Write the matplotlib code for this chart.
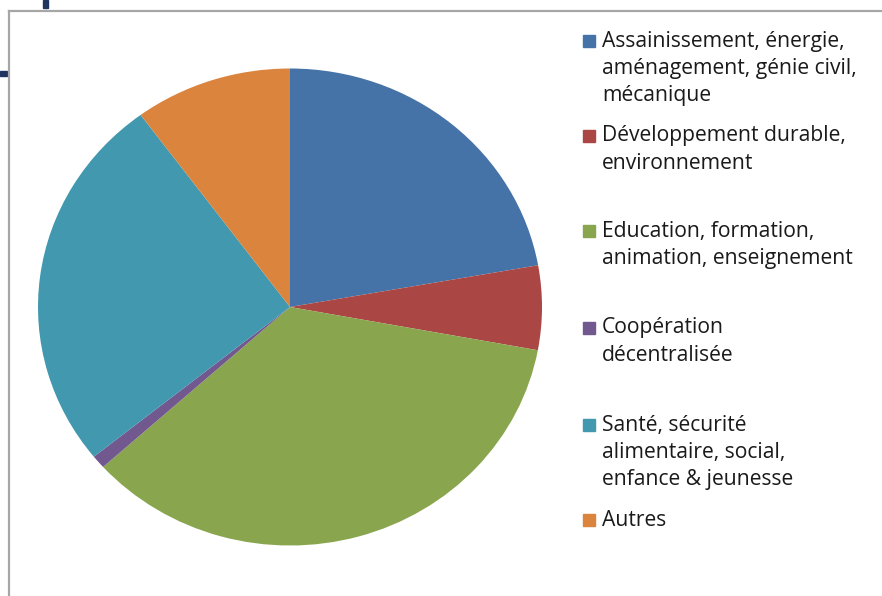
import matplotlib
matplotlib.use("Agg")
import matplotlib.pyplot as plt
from matplotlib.patches import Rectangle
from matplotlib.lines import Line2D

labels = [
    "Assainissement, énergie,\naménagement, génie civil,\nmécanique",
    "Développement durable,\nenvironnement",
    "Education, formation,\nanimation, enseignement",
    "Coopération\ndécentralisée",
    "Santé, sécurité\nalimentaire, social,\nenfance & jeunesse",
    "Autres",
]
values = [22.2, 5.7, 35.4, 0.9, 25.7, 10.1]
colors = ["#4572A7", "#AA4643", "#89A54E", "#71588F", "#4198AF", "#DB843D"]

W, H = 882, 596
fig = plt.figure(figsize=(W / 100, H / 100), dpi=100)
fig.patch.set_facecolor("white")

def fx(px):
    return px / W

def fy(py):
    return 1 - py / H

# frame lines
fig.add_artist(Line2D([fx(9), fx(9)], [fy(11), fy(600)], color="#a6a6a6", lw=1.6, transform=fig.transFigure))
fig.add_artist(Line2D([fx(9), fx(885)], [fy(11), fy(11)], color="#a6a6a6", lw=1.6, transform=fig.transFigure))
# navy marks
fig.add_artist(Rectangle((fx(43), fy(8)), fx(5), 8 / H, color="#1F3560", transform=fig.transFigure))
fig.add_artist(Rectangle((fx(0), fy(76)), fx(7), 5 / H, color="#1F3560", transform=fig.transFigure))

# pie (elliptical as in reference)
cx, cy, rx, ry = 290, 307, 252, 238.5
ax = fig.add_axes([fx(cx - rx), fy(cy + ry), 2 * rx / W, 2 * ry / H])
ax.pie(values, colors=colors, startangle=90, counterclock=False,
       wedgeprops=dict(linewidth=0), radius=1.0)
ax.set_aspect("auto")
ax.set_xlim(-1, 1)
ax.set_ylim(-1, 1)
ax.axis("off")

# legend (manual)
item_tops = [41, 136, 231, 328, 425, 520]
line_h = 27.3
for lab, col, yt in zip(labels, colors, item_tops):
    fig.add_artist(Rectangle((fx(583), fy(yt + 6)), 12 / W, 12 / H, color=col,
                             transform=fig.transFigure))
    for i, line in enumerate(lab.split("\n")):
        fig.text(fx(602), fy(yt + i * line_h), line, fontsize=15.2, family="Open Sans",
                 color="#1a1a1a", va="center", ha="left")

fig.savefig("out.png", dpi=100, facecolor="white")
